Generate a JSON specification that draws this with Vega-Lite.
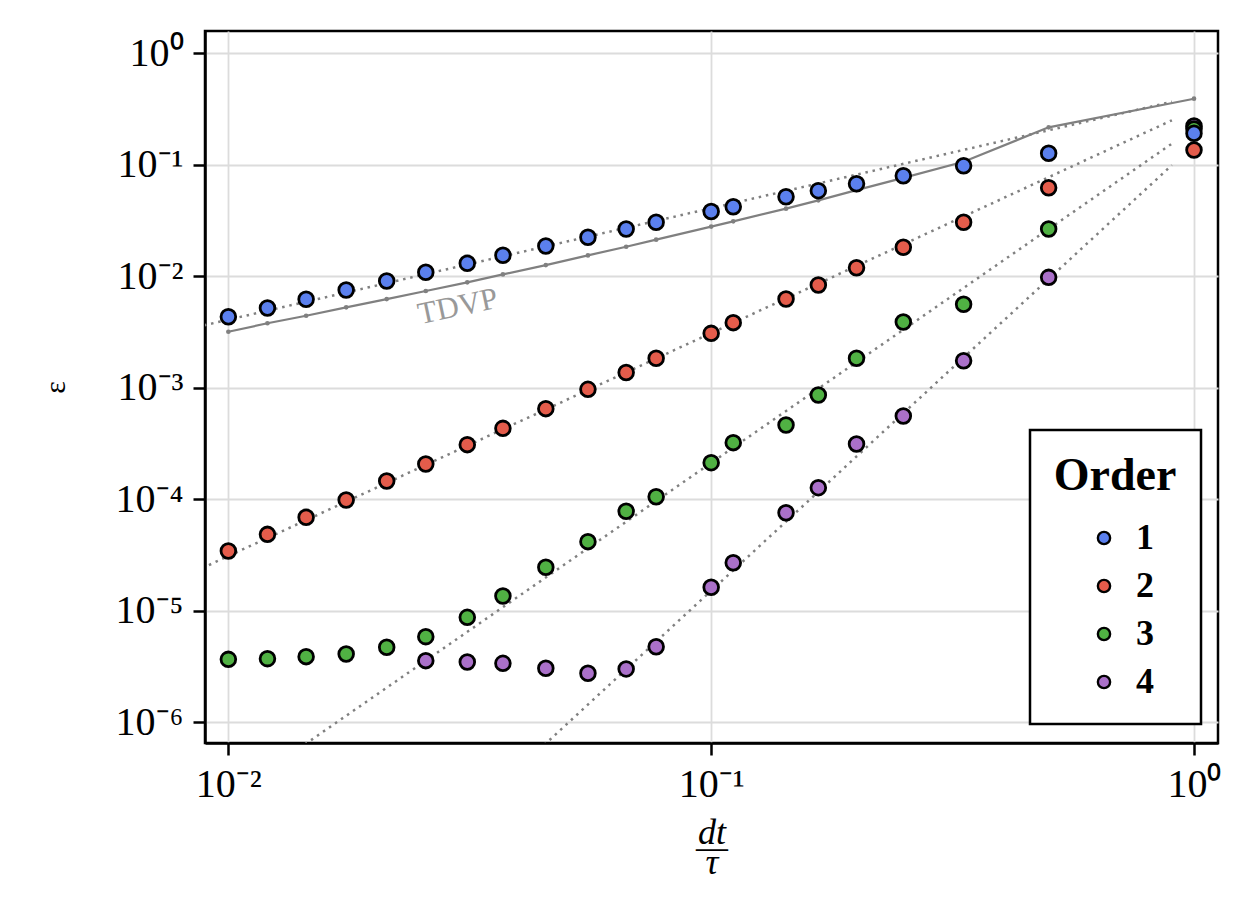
{
  "$schema": "https://vega.github.io/schema/vega-lite/v6.json",
  "width": 1013,
  "height": 712,
  "autosize": {"type": "none"},
  "padding": {"left": 205, "top": 31, "right": 32, "bottom": 158},
  "background": "white",
  "config": {
    "font": "Liberation Serif",
    "view": {"stroke": "black", "strokeWidth": 2.5},
    "axis": {
      "labelFont": "Liberation Serif",
      "labelFontSize": 40,
      "labelColor": "black",
      "tickColor": "black",
      "tickWidth": 2.5,
      "tickSize": 12,
      "domainColor": "black",
      "domainWidth": 2.5,
      "gridColor": "#dcdcdc",
      "gridWidth": 1.8,
      "titleFont": "Liberation Serif",
      "titleColor": "black",
      "titleFontWeight": "normal"
    },
    "legend": {
      "strokeColor": "black",
      "strokeWidth": 2.5,
      "fillColor": "white",
      "padding": 24
    }
  },
  "datasets": {
    "errors": [
      {"order": "4", "dt": 0.02564, "err": 3.57e-6},
      {"order": "4", "dt": 0.03125, "err": 3.47e-6},
      {"order": "4", "dt": 0.03704, "err": 3.38e-6},
      {"order": "4", "dt": 0.04545, "err": 3.05e-6},
      {"order": "4", "dt": 0.05556, "err": 2.75e-6},
      {"order": "4", "dt": 0.06667, "err": 3.01e-6},
      {"order": "4", "dt": 0.07692, "err": 4.76e-6},
      {"order": "4", "dt": 0.1, "err": 1.625e-5},
      {"order": "4", "dt": 0.1111, "err": 2.7e-5},
      {"order": "4", "dt": 0.1429, "err": 7.58e-5},
      {"order": "4", "dt": 0.1667, "err": 1.271e-4},
      {"order": "4", "dt": 0.2, "err": 3.13e-4},
      {"order": "4", "dt": 0.25, "err": 5.59e-4},
      {"order": "4", "dt": 0.3333, "err": 1.75e-3},
      {"order": "4", "dt": 0.5, "err": 9.79e-3},
      {"order": "4", "dt": 1, "err": 0.2228},
      {"order": "3", "dt": 0.01, "err": 3.67e-6},
      {"order": "3", "dt": 0.01205, "err": 3.72e-6},
      {"order": "3", "dt": 0.01449, "err": 3.88e-6},
      {"order": "3", "dt": 0.01754, "err": 4.1e-6},
      {"order": "3", "dt": 0.02128, "err": 4.71e-6},
      {"order": "3", "dt": 0.02564, "err": 5.86e-6},
      {"order": "3", "dt": 0.03125, "err": 8.74e-6},
      {"order": "3", "dt": 0.03704, "err": 1.357e-5},
      {"order": "3", "dt": 0.04545, "err": 2.455e-5},
      {"order": "3", "dt": 0.05556, "err": 4.17e-5},
      {"order": "3", "dt": 0.06667, "err": 7.81e-5},
      {"order": "3", "dt": 0.07692, "err": 1.055e-4},
      {"order": "3", "dt": 0.1, "err": 2.13e-4},
      {"order": "3", "dt": 0.1111, "err": 3.22e-4},
      {"order": "3", "dt": 0.1429, "err": 4.64e-4},
      {"order": "3", "dt": 0.1667, "err": 8.62e-4},
      {"order": "3", "dt": 0.2, "err": 1.839e-3},
      {"order": "3", "dt": 0.25, "err": 3.89e-3},
      {"order": "3", "dt": 0.3333, "err": 5.61e-3},
      {"order": "3", "dt": 0.5, "err": 2.656e-2},
      {"order": "3", "dt": 1, "err": 0.2095},
      {"order": "1", "dt": 0.01, "err": 4.34e-3},
      {"order": "1", "dt": 0.01205, "err": 5.2e-3},
      {"order": "1", "dt": 0.01449, "err": 6.22e-3},
      {"order": "1", "dt": 0.01754, "err": 7.53e-3},
      {"order": "1", "dt": 0.02128, "err": 9.07e-3},
      {"order": "1", "dt": 0.02564, "err": 1.086e-2},
      {"order": "1", "dt": 0.03125, "err": 1.308e-2},
      {"order": "1", "dt": 0.03704, "err": 1.543e-2},
      {"order": "1", "dt": 0.04545, "err": 1.87e-2},
      {"order": "1", "dt": 0.05556, "err": 2.238e-2},
      {"order": "1", "dt": 0.06667, "err": 2.656e-2},
      {"order": "1", "dt": 0.07692, "err": 3.05e-2},
      {"order": "1", "dt": 0.1, "err": 3.81e-2},
      {"order": "1", "dt": 0.1111, "err": 4.21e-2},
      {"order": "1", "dt": 0.1429, "err": 5.17e-2},
      {"order": "1", "dt": 0.1667, "err": 5.86e-2},
      {"order": "1", "dt": 0.2, "err": 6.77e-2},
      {"order": "1", "dt": 0.25, "err": 7.98e-2},
      {"order": "1", "dt": 0.3333, "err": 9.81e-2},
      {"order": "1", "dt": 0.5, "err": 0.1268},
      {"order": "1", "dt": 1, "err": 0.1916},
      {"order": "2", "dt": 0.01, "err": 3.44e-5},
      {"order": "2", "dt": 0.01205, "err": 4.85e-5},
      {"order": "2", "dt": 0.01449, "err": 6.9e-5},
      {"order": "2", "dt": 0.01754, "err": 9.86e-5},
      {"order": "2", "dt": 0.02128, "err": 1.459e-4},
      {"order": "2", "dt": 0.02564, "err": 2.073e-4},
      {"order": "2", "dt": 0.03125, "err": 3.09e-4},
      {"order": "2", "dt": 0.03704, "err": 4.33e-4},
      {"order": "2", "dt": 0.04545, "err": 6.5e-4},
      {"order": "2", "dt": 0.05556, "err": 9.69e-4},
      {"order": "2", "dt": 0.06667, "err": 1.371e-3},
      {"order": "2", "dt": 0.07692, "err": 1.839e-3},
      {"order": "2", "dt": 0.1, "err": 3.08e-3},
      {"order": "2", "dt": 0.1111, "err": 3.84e-3},
      {"order": "2", "dt": 0.1429, "err": 6.26e-3},
      {"order": "2", "dt": 0.1667, "err": 8.36e-3},
      {"order": "2", "dt": 0.2, "err": 1.194e-2},
      {"order": "2", "dt": 0.25, "err": 1.82e-2},
      {"order": "2", "dt": 0.3333, "err": 3.05e-2},
      {"order": "2", "dt": 0.5, "err": 6.23e-2},
      {"order": "2", "dt": 1, "err": 0.1358}
    ],
    "tdvp": [
      {"dt": 0.01, "err": 3.18e-3},
      {"dt": 0.01205, "err": 3.79e-3},
      {"dt": 0.01449, "err": 4.43e-3},
      {"dt": 0.01754, "err": 5.27e-3},
      {"dt": 0.02128, "err": 6.25e-3},
      {"dt": 0.02564, "err": 7.38e-3},
      {"dt": 0.03125, "err": 8.83e-3},
      {"dt": 0.03704, "err": 1.04e-2},
      {"dt": 0.04545, "err": 1.26e-2},
      {"dt": 0.05556, "err": 1.54e-2},
      {"dt": 0.06667, "err": 1.84e-2},
      {"dt": 0.07692, "err": 2.13e-2},
      {"dt": 0.1, "err": 2.79e-2},
      {"dt": 0.1111, "err": 3.11e-2},
      {"dt": 0.1429, "err": 4.04e-2},
      {"dt": 0.1667, "err": 4.8e-2},
      {"dt": 0.2, "err": 5.93e-2},
      {"dt": 0.25, "err": 7.64e-2},
      {"dt": 0.3333, "err": 0.1066},
      {"dt": 0.5, "err": 0.2169},
      {"dt": 1, "err": 0.3915}
    ],
    "fits": [
      {"order": "1", "dt": 0.005, "err": 2.04e-3},
      {"order": "1", "dt": 0.9, "err": 0.3674},
      {"order": "2", "dt": 0.005, "err": 7.74e-6},
      {"order": "2", "dt": 0.9, "err": 0.2508},
      {"order": "3", "dt": 0.005, "err": 2.65e-8},
      {"order": "3", "dt": 0.9, "err": 0.1548},
      {"order": "4", "dt": 0.005, "err": 9.46e-11},
      {"order": "4", "dt": 0.9, "err": 0.0993}
    ],
    "notes": [
      {"dt": 0.0299, "err": 0.0053, "label": "TDVP"}
    ]
  },
  "encoding": {
    "x": {
      "field": "dt",
      "type": "quantitative",
      "scale": {"type": "log", "domain": [0.008946, 1.1213], "nice": false},
      "axis": {
        "values": [0.01, 0.1, 1],
        "labelExpr": "'10' + (round(log(datum.value)/LN10) < 0 ? '⁻' : '') + ['⁰','¹','²','³','⁴','⁵','⁶'][abs(round(log(datum.value)/LN10))]",
        "labelPadding": 9,
        "title": ["dt", "—", "τ"],
        "titleFontSize": 36,
        "titleFontStyle": "italic",
        "titleLineHeight": 15,
        "titleBaseline": "alphabetic",
        "titleY": 100,
        "titleAnchor": "middle"
      }
    },
    "y": {
      "field": "err",
      "type": "quantitative",
      "scale": {"type": "log", "domain": [6.52e-7, 1.585], "nice": false},
      "axis": {
        "values": [0.000001, 0.00001, 0.0001, 0.001, 0.01, 0.1, 1],
        "labelExpr": "'10' + (round(log(datum.value)/LN10) < 0 ? '⁻' : '') + ['⁰','¹','²','³','⁴','⁵','⁶'][abs(round(log(datum.value)/LN10))]",
        "labelPadding": 10,
        "title": "ε",
        "titleFontSize": 30,
        "titleX": -150,
        "titleY": 356,
        "titleAlign": "center",
        "titleBaseline": "middle"
      }
    }
  },
  "layer": [
    {
      "data": {"name": "fits"},
      "mark": {"type": "line", "color": "#808080", "strokeWidth": 2.5, "strokeDash": [2.5, 4.8], "clip": true},
      "encoding": {"detail": {"field": "order", "type": "nominal"}}
    },
    {
      "data": {"name": "tdvp"},
      "mark": {
        "type": "line",
        "color": "#808080",
        "strokeWidth": 2.2,
        "point": {"filled": true, "size": 22, "color": "#808080"}
      },
      "encoding": {}
    },
    {
      "data": {"name": "notes"},
      "mark": {"type": "text", "angle": 348, "fontSize": 31, "color": "#999999", "align": "center", "baseline": "middle", "font": "Liberation Serif"},
      "encoding": {"text": {"field": "label", "type": "nominal"}}
    },
    {
      "data": {"name": "errors"},
      "mark": {"type": "point", "filled": true, "stroke": "black", "strokeWidth": 2.8, "size": 216, "opacity": 1, "shape": "circle"},
      "encoding": {
        "color": {
          "field": "order",
          "type": "nominal",
          "scale": {"domain": ["1", "2", "3", "4"], "range": ["#5b80ee", "#e45c4b", "#50b143", "#aa70c9"]},
          "legend": {
            "title": "Order",
            "orient": "none",
            "legendX": 825,
            "legendY": 399,
            "titleFont": "Liberation Serif",
            "titleFontSize": 46,
            "titleFontWeight": "bold",
            "titleColor": "black",
            "titleAnchor": "middle",
            "titleAlign": "center",
            "titlePadding": 20,
            "labelFont": "Liberation Serif",
            "labelFontSize": 36,
            "labelFontWeight": "bold",
            "labelColor": "black",
            "symbolType": "circle",
            "symbolSize": 150,
            "symbolStrokeColor": "black",
            "symbolStrokeWidth": 2.4,
            "symbolOffset": 10,
            "labelOffset": 14,
            "rowPadding": 12
          }
        }
      }
    }
  ]
}
